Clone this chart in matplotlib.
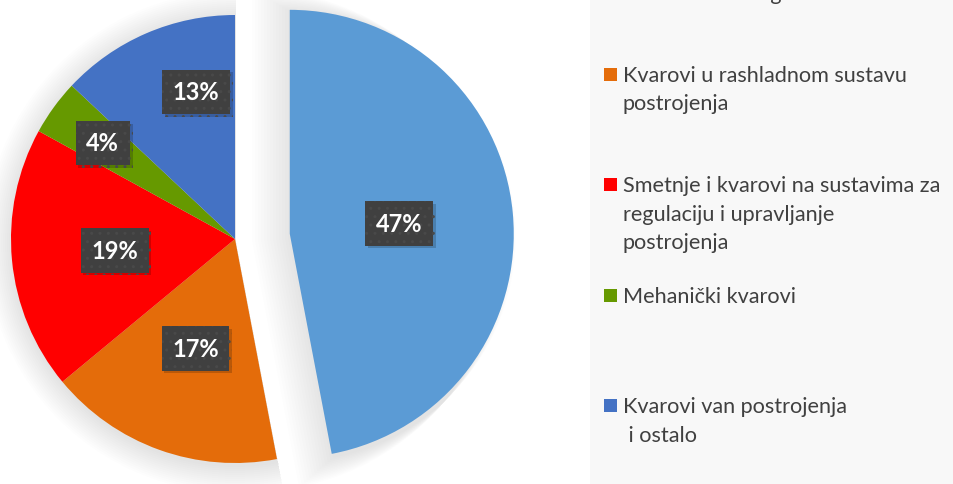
import matplotlib.pyplot as plt
import matplotlib.patheffects as pe
from matplotlib.patches import Rectangle
import numpy as np

# slice values (percent), clockwise from 12 o'clock
values = [47, 17, 19, 4, 13]
names = [
    "Kvarovi na električnim dijelovima\nstatora i rotora generatora",
    "Kvarovi u rashladnom sustavu\npostrojenja",
    "Smetnje i kvarovi na sustavima za\nregulaciju i upravljanje\npostrojenja",
    "Mehanički kvarovi",
    "Kvarovi van postrojenja\n i ostalo",
]
colors = ["#5B9BD5", "#E46C0A", "#FF0000", "#669900", "#4472C4"]
explode_px = [55, 0, 0, 0, 0]
label_r = [0.49, 0.52, 0.54, 0.73, 0.68]
label_shift = [0, 0, 0, 0, -8.5]

W, H = 954, 485
R = 224
CX, CY = 235, H - 240
LEG_X = 590

fig = plt.figure(figsize=(W / 100, H / 100), dpi=100)
fig.patch.set_facecolor("white")
ax = fig.add_axes([0, 0, LEG_X / W, 1])

# soft shadow under the pie
for k in range(14):
    ex = [max(e - 3 * k, 0) for e in explode_px]
    ax.pie(values, radius=R + 2 * k + 1, center=(CX + 1, CY - 3), explode=ex,
           startangle=90, counterclock=False, colors=["black"] * len(values),
           wedgeprops=dict(linewidth=0, alpha=0.007))

wedges, _ = ax.pie(values, radius=R, center=(CX, CY), explode=explode_px,
                   startangle=90, counterclock=False, colors=colors,
                   wedgeprops=dict(linewidth=0))

for w, v, lr, sh in zip(wedges, values, label_r, label_shift):
    mid = np.deg2rad((w.theta1 + w.theta2) / 2 + sh)
    x = w.center[0] + lr * R * np.cos(mid)
    y = w.center[1] + lr * R * np.sin(mid)
    t = ax.text(x, y, f"{v}%", ha="center", va="center", color="white",
                fontsize=17, fontweight="bold", family=["Lato", "DejaVu Sans"],
                bbox=dict(boxstyle="square,pad=0.45", fc="#404040", ec="#494949",
                          lw=0, hatch=".."), zorder=5)
    t.get_bbox_patch().set_path_effects(
        [pe.withSimplePatchShadow(offset=(2, -2), shadow_rgbFace="black", alpha=0.18),
         pe.Normal()])

ax.set_xlim(0, LEG_X)
ax.set_ylim(0, H)
ax.axis("off")

# legend panel
lax = fig.add_axes([LEG_X / W, 0, (W - LEG_X) / W, 1])
lax.set_facecolor("#F8F8F8")
lax.set_xlim(LEG_X, W)
lax.set_ylim(H, 0)
lax.set_xticks([])
lax.set_yticks([])
for s in lax.spines.values():
    s.set_visible(False)

slot = 110.5
line_step = 28.6
for i, (name, c) in enumerate(zip(names, colors)):
    base = 81.7 + slot * (i - 1)
    lax.add_patch(Rectangle((604, base - 13), 13, 13, color=c, lw=0))
    for j, line in enumerate(name.split("\n")):
        lax.text(623, base + j * line_step, line, ha="left", va="baseline",
                 fontsize=15.6, color="#404040", family=["Lato", "DejaVu Sans"])

fig.savefig("out.png", dpi=100, facecolor=fig.get_facecolor())
